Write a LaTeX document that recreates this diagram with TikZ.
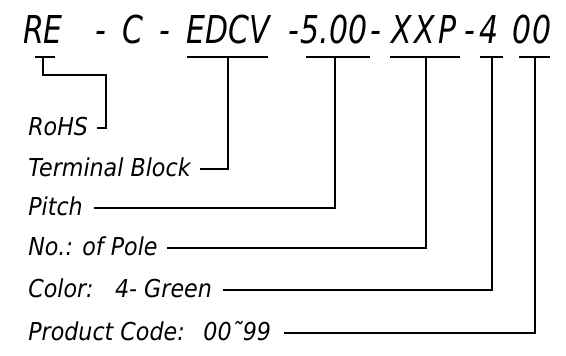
\documentclass[tikz,border=0pt]{standalone}
\usepackage{fontspec}
\setmainfont{DejaVu Sans}
\newfontfamily\codefont[FakeStretch=0.78]{DejaVu Sans}
\newfontfamily\lblfont[FakeStretch=0.9]{DejaVu Sans}
\usetikzlibrary{positioning}

\tikzset{
  seg/.style={anchor=base, inner sep=0pt, font=\codefont\fontsize{28.8}{32}\selectfont\itshape},
  lbl/.style={anchor=base west, inner sep=0pt, font=\lblfont\fontsize{18.5}{21}\selectfont\itshape},
  lead/.style={line width=0.9pt}
}

\begin{document}
\begin{tikzpicture}[x=0.75pt, y=-0.75pt]
    \useasboundingbox (0,0) rectangle (566,355);

    % Part number
    \node[seg] (re)    at (43,43)  {RE};
    \node[seg] (d1)    at (101,43) {-};
    \node[seg] (c)     at (133,43) {C};
    \node[seg] (d2)    at (165,43) {-};
    \node[seg] (edcv)  at (228,43) {EDCV};
    \node[seg] (d3)    at (294,43) {-};
    \node[seg] (pitch) at (334,43) {5.00};
    \node[seg] (d4)    at (376,43) {-};
    \node[seg] (xxp)   at (424,43) {X\kern2pt X\kern2pt P};
    \node[seg] (d5)    at (470,43) {-};
    \node[seg] (col)   at (489,43) {4};
    \node[seg] (code)  at (532,43) {00};

    % Underlines
    \foreach \a/\b in {35/55, 187/268, 306/370, 390/460, 480/503, 519/550}
        \draw[lead] (\a,57) -- (\b,57);
    \coordinate (u-re)    at (43,57);
    \coordinate (u-edcv)  at (228,57);
    \coordinate (u-pitch) at (335,57);
    \coordinate (u-xxp)   at (426,57);
    \coordinate (u-col)   at (492,57);
    \coordinate (u-code)  at (535,57);
    \coordinate (jog)     at (106,75);

    % Labels
    \node[lbl] (l-rohs)  at (28,135) {RoHS};
    \node[lbl] (l-tb)    at (28,176) {Terminal Block};
    \node[lbl] (l-pitch) at (28,215) {Pitch};
    \node[lbl] (l-pole)  at (28,255) {No.: of Pole};
    \node[lbl] (l-col)   at (28,297) {Color:\hspace{16pt}4- Green};
    \node[lbl] (l-code)  at (28,340) {Product Code:\hspace{14pt}00˜99};

    % Leaders
    \draw[lead] (u-re) |- (jog) |- ([shift={(9,-7)}]l-rohs.base east);
    \draw[lead] (u-edcv)  |- ([shift={(9,-7)}]l-tb.base east);
    \draw[lead] (u-pitch) |- ([shift={(11,-7)}]l-pitch.base east);
    \draw[lead] (u-xxp)   |- ([shift={(9,-7)}]l-pole.base east);
    \draw[lead] (u-col)   |- ([shift={(11,-7)}]l-col.base east);
    \draw[lead] (u-code)  |- ([shift={(13,-7)}]l-code.base east);
\end{tikzpicture}
\end{document}
